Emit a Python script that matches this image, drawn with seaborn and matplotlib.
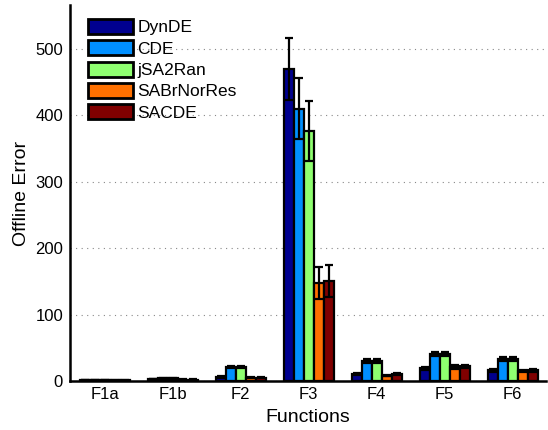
import numpy as np
import pandas as pd
import matplotlib
matplotlib.use("Agg")
import matplotlib.pyplot as plt
import seaborn as sns

functions = ["F1a", "F1b", "F2", "F3", "F4", "F5", "F6"]
algorithms = ["DynDE", "CDE", "jSA2Ran", "SABrNorRes", "SACDE"]
colors = ["#00008F", "#008FFF", "#8FFF70", "#FF7000", "#800000"]

dynde = [1.5, 3, 6, 470, 11, 19, 16]
cde = [1.5, 4, 21, 410, 30, 40, 33]
jsa2ran = [1.5, 4, 21, 376, 30, 40, 33]
sabrnorres = [0.8, 2, 5, 148, 8, 21, 15]
sacde = [0.8, 2, 5, 151, 10, 22, 16]

dynde_err = [0.3, 0.5, 1, 47, 1.5, 2.5, 2.5]
cde_err = [0.3, 0.5, 2, 46, 2.5, 3, 3]
jsa2ran_err = [0.3, 0.5, 2, 45, 2.5, 3, 3]
sabrnorres_err = [0.2, 0.3, 1, 24, 1, 2.5, 2]
sacde_err = [0.2, 0.3, 1, 24, 1.5, 2.5, 2]

means = [dynde, cde, jsa2ran, sabrnorres, sacde]
errs = [dynde_err, cde_err, jsa2ran_err, sabrnorres_err, sacde_err]

rows = []
for a, m, e in zip(algorithms, means, errs):
    for f, v, s in zip(functions, m, e):
        rows.append({"Function": f, "Algorithm": a, "Value": v, "Err": s})
df = pd.DataFrame(rows)

sns.set_style("white")
plt.rcParams["font.family"] = ["Liberation Sans", "DejaVu Sans"]
plt.rcParams["text.color"] = "black"
plt.rcParams["axes.labelcolor"] = "black"

fig = plt.figure(figsize=(5.48, 4.30), dpi=100)
ax = fig.add_axes([70/548, 49/430, 476/548, 376/430])

sns.barplot(data=df, x="Function", y="Value", hue="Algorithm",
            order=functions, hue_order=algorithms, palette=colors,
            errorbar=None, width=0.74, edgecolor="black", linewidth=1.6,
            saturation=1, ax=ax, zorder=3)

# error bars at bar centres
for patch_container, a in zip(ax.containers, algorithms):
    sub = df[df["Algorithm"] == a].set_index("Function").loc[functions]
    xs = [p.get_x() + p.get_width() / 2 for p in patch_container.patches]
    ax.errorbar(xs, sub["Value"].values, yerr=sub["Err"].values, fmt="none",
                ecolor="black", elinewidth=1.6, capsize=3, capthick=1.6, zorder=4)

ax.set_ylim(0, 566)
ax.set_xlim(-0.51, 6.49)
ax.set_yticks([0, 100, 200, 300, 400, 500])
ax.yaxis.grid(True, linestyle=(0, (1, 4)), color="#888888", linewidth=0.8)
ax.set_axisbelow(True)
for s in ["top", "right"]:
    ax.spines[s].set_visible(False)
for s in ["left", "bottom"]:
    ax.spines[s].set_linewidth(1.8)
    ax.spines[s].set_color("black")
ax.tick_params(axis="both", length=0, labelsize=12, colors="black")
ax.tick_params(axis="y", pad=5)
ax.tick_params(axis="x", pad=4)
ax.set_xlabel("Functions", fontsize=14, labelpad=5, color="black")
ax.set_ylabel("Offline Error", fontsize=14, labelpad=4, color="black")

leg = ax.legend(loc="upper left", bbox_to_anchor=(0.012, 0.995), frameon=False,
                fontsize=12.5, handlelength=2.6, handleheight=0.95,
                labelspacing=0.28, handletextpad=0.25, borderaxespad=0.3)
for t in leg.get_texts():
    t.set_color("black")
for h in leg.legend_handles:
    h.set_edgecolor("black")
    h.set_linewidth(2)

fig.savefig("out.png", dpi=100)
